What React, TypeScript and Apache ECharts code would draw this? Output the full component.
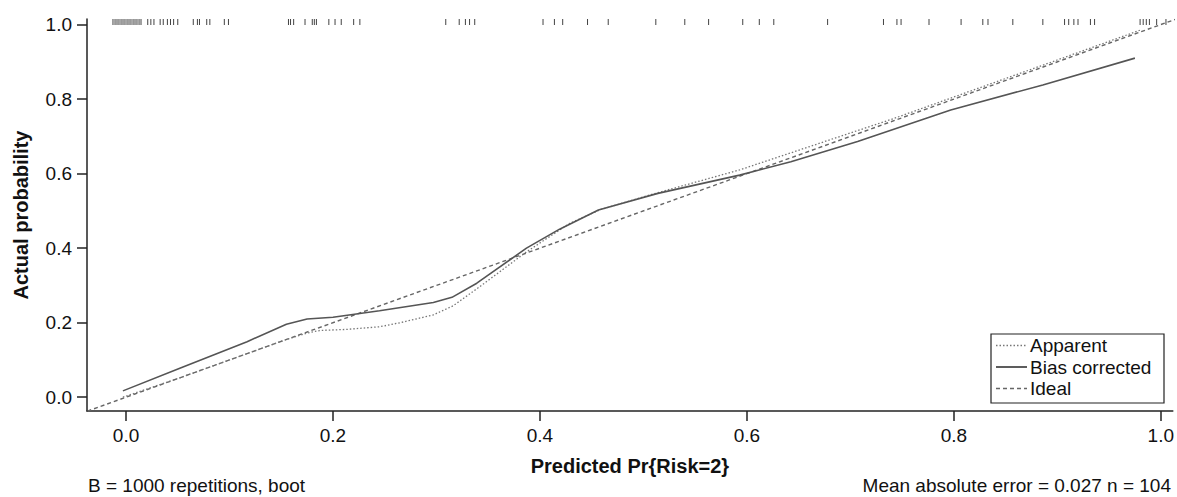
import React, { useEffect, useRef } from "react";
import * as echarts from "echarts";

// Axis ranges / ticks
const X_MIN = -0.0377;
const X_MAX = 1.0116;
const Y_MIN = -0.037;
const Y_MAX = 1.015;
const tickValues = [0, 0.2, 0.4, 0.6, 0.8, 1.0];

// Apparent calibration curve
const apparentX = [-0.003, 0.05, 0.1, 0.155, 0.175, 0.187, 0.213, 0.245, 0.265, 0.297, 0.316, 0.342, 0.387, 0.429, 0.459, 0.514, 0.593, 0.742, 0.9, 0.98];
const apparentY = [0.0, 0.05, 0.1, 0.155, 0.172, 0.179, 0.182, 0.189, 0.2, 0.221, 0.245, 0.297, 0.39, 0.467, 0.504, 0.549, 0.61, 0.748, 0.905, 0.985];

// Bias-corrected calibration curve
const biasX = [-0.003, 0.052, 0.117, 0.155, 0.175, 0.2, 0.245, 0.297, 0.315, 0.339, 0.387, 0.419, 0.4565, 0.514, 0.593, 0.6425, 0.707, 0.797, 0.886, 0.975];
const biasY = [0.017, 0.078, 0.149, 0.196, 0.21, 0.2145, 0.232, 0.254, 0.268, 0.306, 0.4, 0.451, 0.5025, 0.547, 0.596, 0.632, 0.686, 0.771, 0.838, 0.91];

// Ideal line end points
const idealX = [-0.05, 1.05];
const idealY = [-0.05, 1.05];

// Rug of predicted probabilities (top)
const rugValues = [
  -0.0126, -0.0106, -0.0087, -0.0068, -0.0048, -0.0029, -0.001, 0.001, 0.0029, 0.0048, 0.0068, 0.0087, 0.0106, 0.0126, 0.0145,
  0.021, 0.024, 0.027, 0.033, 0.036, 0.04, 0.043, 0.046, 0.05,
  0.065, 0.069, 0.071, 0.078, 0.081, 0.095, 0.099,
  0.157, 0.159, 0.162, 0.173, 0.18, 0.182, 0.184, 0.196, 0.202, 0.208, 0.22, 0.226,
  0.309, 0.322, 0.328, 0.332, 0.337,
  0.403, 0.414, 0.422, 0.446, 0.466, 0.512, 0.54, 0.563, 0.596, 0.612, 0.626, 0.678,
  0.732, 0.745, 0.749, 0.776, 0.807, 0.828, 0.833, 0.857, 0.886,
  0.907, 0.911, 0.916, 0.92, 0.932, 0.936, 0.98, 0.983, 0.986, 0.989, 0.996, 1.005,
];

const seriesNames = ["Apparent", "Bias corrected", "Ideal"];
const footLeft = "B = 1000 repetitions, boot";
const footRight = "Mean absolute error = 0.027 n = 104";

const FONT = "Liberation Sans, Arial, Helvetica, sans-serif";

const COLORS = ["#777", "#555", "#666"];
const WIDTHS = [1.3, 1.6, 1.4];
const DASHES: (number[] | null)[] = [[1.5, 2], null, [4, 3]];

function zip(xs: number[], ys: number[]) {
  return xs.map((x, i) => [x, ys[i]]);
}

function legendGraphic() {
  const boxX = 991;
  const boxY = 334;
  const rowH = 21.5;
  const children: any[] = [
    {
      type: "rect",
      shape: { x: boxX, y: boxY, width: 173, height: 69 },
      style: { fill: "#fff", stroke: "#222", lineWidth: 1.2 },
    },
  ];
  seriesNames.forEach((name, i) => {
    const cy = boxY + 11.5 + i * rowH;
    children.push({
      type: "line",
      shape: { x1: boxX + 5, y1: cy, x2: boxX + 36, y2: cy },
      style: { stroke: COLORS[i], lineWidth: WIDTHS[i] + 0.3, lineDash: DASHES[i] || undefined },
    });
    children.push({
      type: "text",
      x: boxX + 39,
      y: cy,
      style: { text: name, fontSize: 19, fill: "#111", fontFamily: FONT, verticalAlign: "middle", align: "left" },
    });
  });
  return { type: "group", children, z: 100 };
}

export default function App() {
  const ref = useRef<HTMLDivElement>(null);
  useEffect(() => {
    if (!ref.current) return;
    const chart = echarts.init(ref.current, undefined, { renderer: "svg" });
    const axisLine = { show: true, onZero: false, lineStyle: { color: "#222", width: 1.5 } };
    const lineSeries = [
      { name: seriesNames[0], xs: apparentX, ys: apparentY, z: 3 },
      { name: seriesNames[1], xs: biasX, ys: biasY, z: 4 },
      { name: seriesNames[2], xs: idealX, ys: idealY, z: 2 },
    ].map((s, i) => ({
      name: s.name,
      type: "line",
      data: zip(s.xs, s.ys),
      symbol: "none",
      lineStyle: { color: COLORS[i], width: WIDTHS[i], type: DASHES[i] || "solid" },
      itemStyle: { color: COLORS[i] },
      z: s.z,
    }));
    chart.setOption({
      animation: false,
      backgroundColor: "#fff",
      textStyle: { fontFamily: FONT },
      grid: { left: 87, right: 4, top: 19, bottom: 86 },
      xAxis: {
        type: "value",
        min: X_MIN,
        max: X_MAX,
        axisLine,
        splitLine: { show: false },
        axisTick: { show: true, length: 10, customValues: tickValues, lineStyle: { color: "#222", width: 1.5 } },
        axisLabel: {
          customValues: tickValues,
          formatter: (v: number) => v.toFixed(1),
          fontSize: 19,
          color: "#111",
          margin: 15,
          fontFamily: FONT,
        },
        name: "Predicted Pr{Risk=2}",
        nameLocation: "middle",
        nameGap: 45,
        nameTextStyle: { fontSize: 20, fontWeight: "bold", color: "#111", fontFamily: FONT },
      },
      yAxis: {
        type: "value",
        min: Y_MIN,
        max: Y_MAX,
        axisLine,
        splitLine: { show: false },
        axisTick: { show: true, length: 10, customValues: tickValues, lineStyle: { color: "#222", width: 1.5 } },
        axisLabel: {
          customValues: tickValues,
          formatter: (v: number) => v.toFixed(1),
          fontSize: 19,
          color: "#111",
          margin: 15,
          fontFamily: FONT,
        },
        name: "Actual probability",
        nameLocation: "middle",
        nameGap: 56,
        nameTextStyle: { fontSize: 20, fontWeight: "bold", color: "#111", fontFamily: FONT },
      },
      graphic: [
        {
          type: "text",
          left: 88,
          top: 476,
          style: { text: footLeft, fontSize: 19, fill: "#111", fontFamily: FONT },
        },
        {
          type: "text",
          right: 6,
          top: 476,
          style: { text: footRight, fontSize: 19, fill: "#111", fontFamily: FONT },
        },
        legendGraphic(),
      ],
      series: [
        ...lineSeries,
        {
          name: "rug",
          type: "custom",
          data: rugValues.map((v) => [v, Y_MAX]),
          encode: { x: 0, y: 1 },
          renderItem: (params: any, api: any) => {
            const p = api.coord([api.value(0), api.value(1)]);
            return {
              type: "line",
              shape: { x1: p[0], y1: p[1], x2: p[0], y2: p[1] + 6 },
              style: { stroke: "#222", lineWidth: 1, opacity: 0.85 },
            };
          },
          silent: true,
          z: 5,
        },
      ],
    });
    return () => chart.dispose();
  }, []);
  return (
    <div
      ref={ref}
      style={{ position: "fixed", left: 0, top: 0, width: 1177, height: 497, background: "#fff" }}
    />
  );
}
